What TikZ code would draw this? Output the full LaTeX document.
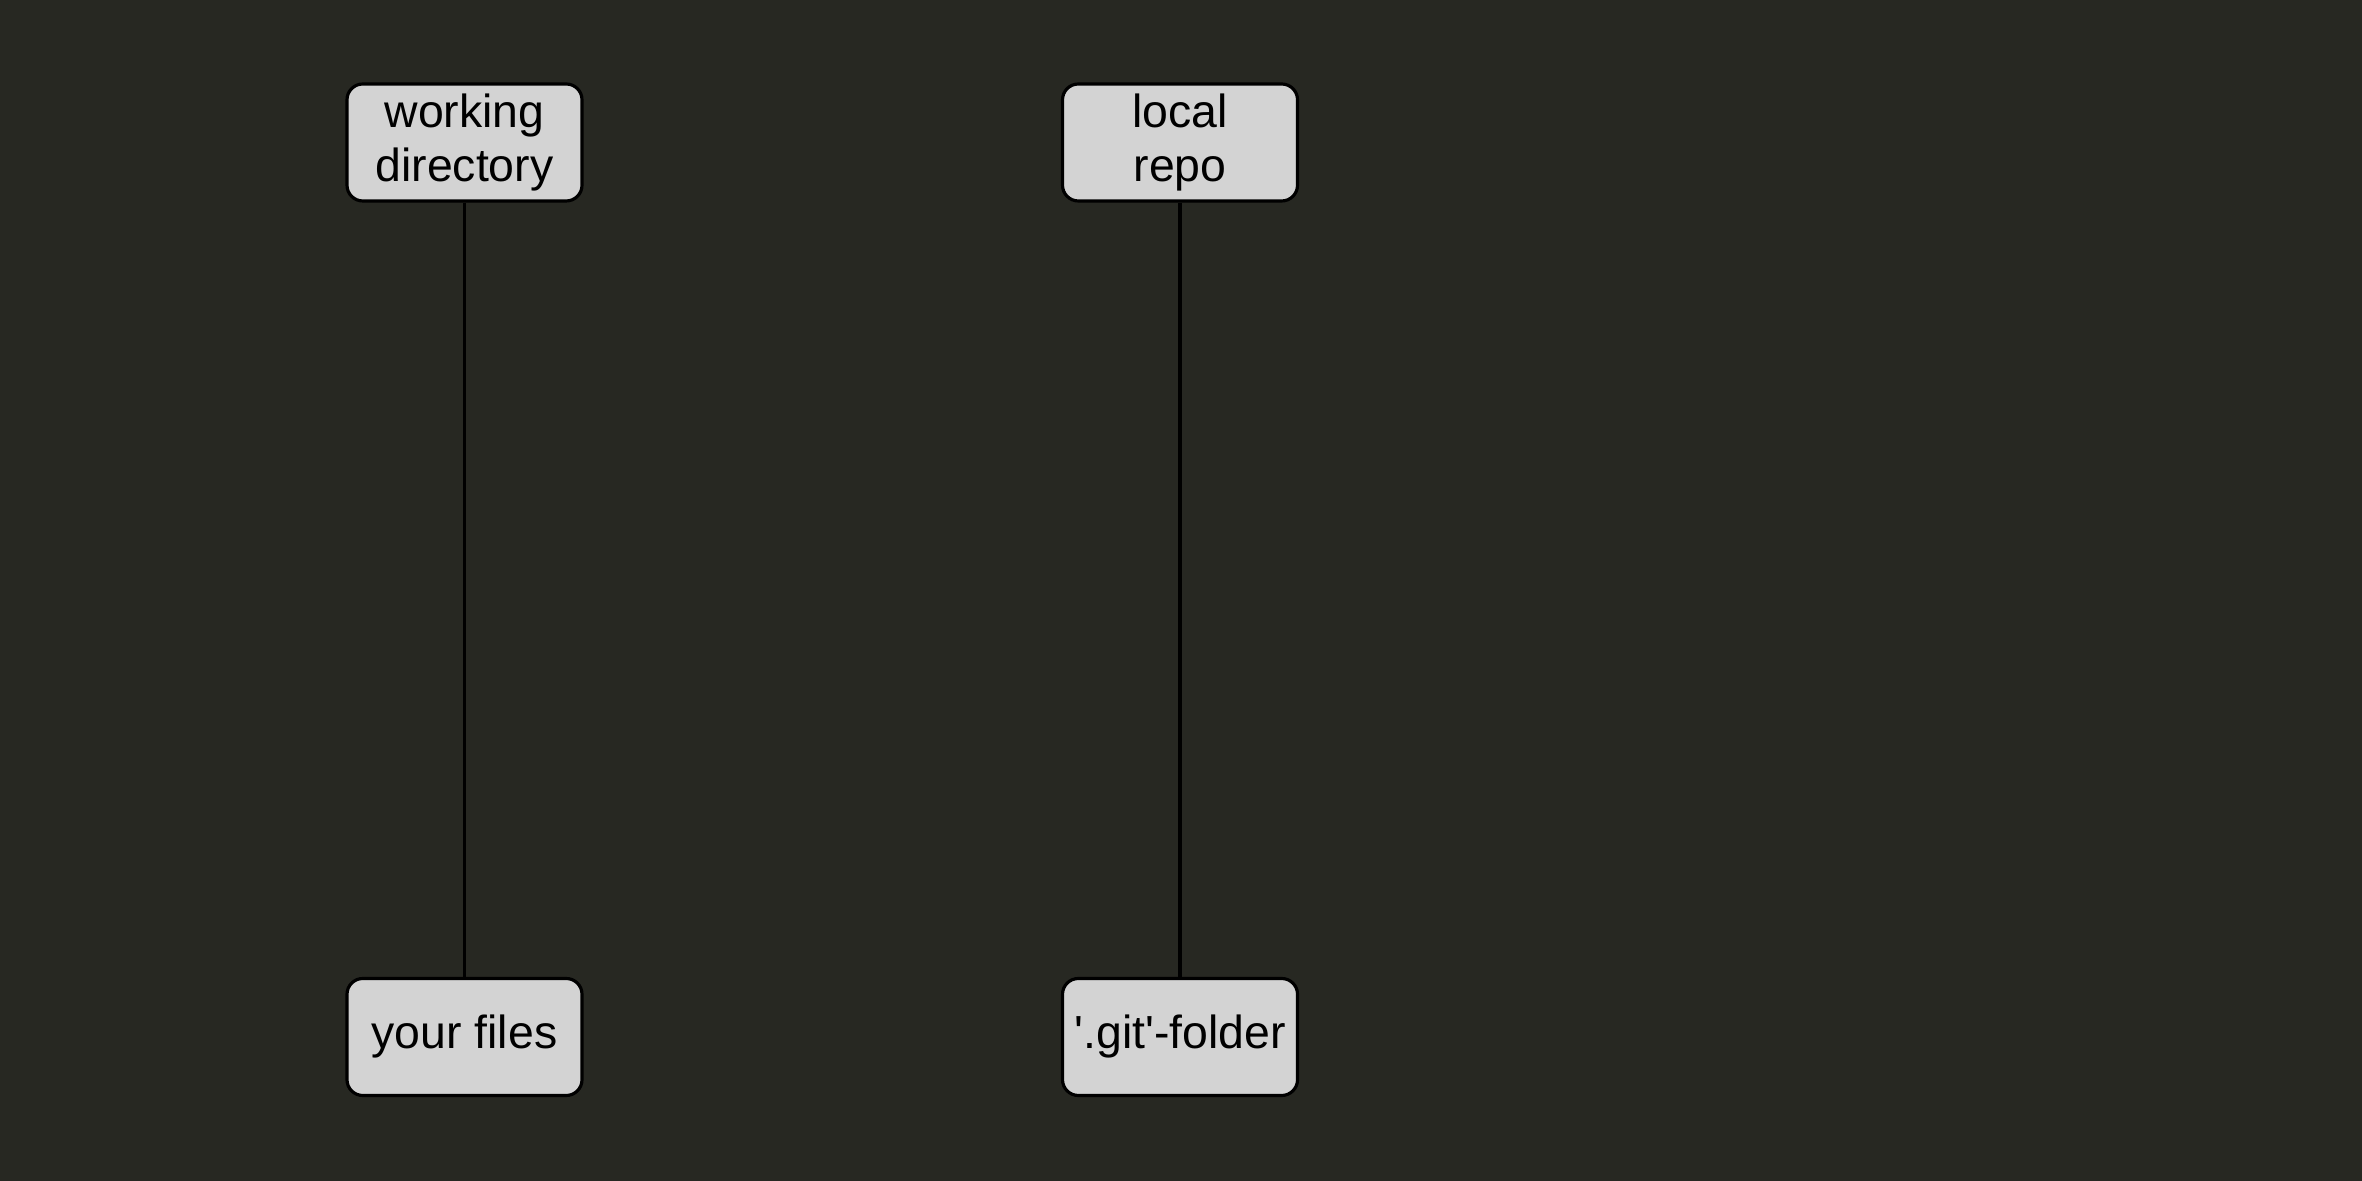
\documentclass[tikz,border=0pt]{standalone}
\usepackage{fontspec}
\setmainfont{Liberation Sans}
\usepackage{xcolor}
\usepackage{tikz}
\usetikzlibrary{positioning}
\definecolor{bgdark}{HTML}{272822}
\definecolor{boxgray}{HTML}{D3D3D3}

\begin{document}
\begin{tikzpicture}[
  font=\fontsize{13.2}{15.4}\selectfont,
  place/.style={draw=black,fill=boxgray,line width=0.9pt,rounded corners=4.5pt,minimum width=2.35cm,minimum height=1.17cm,align=center,inner sep=0pt},
  link/.style={draw=black,line width=0.9pt}
]
\fill[bgdark] (0,0) rectangle (23.62,11.81);
\useasboundingbox (0,0) rectangle (23.62,11.81);
\node[place] (work) at (4.645,10.385) {working\\directory};
\node[place] (files) at (4.645,1.44) {your files};
\node[place] (repo) at (11.80,10.385) {local\\repo};
\node[place] (git) at (11.80,1.44) {\textquotesingle.git\textquotesingle-folder};
\draw[link] (work)--(files); \draw[link] (repo)--(git);
\end{tikzpicture}
\end{document}
